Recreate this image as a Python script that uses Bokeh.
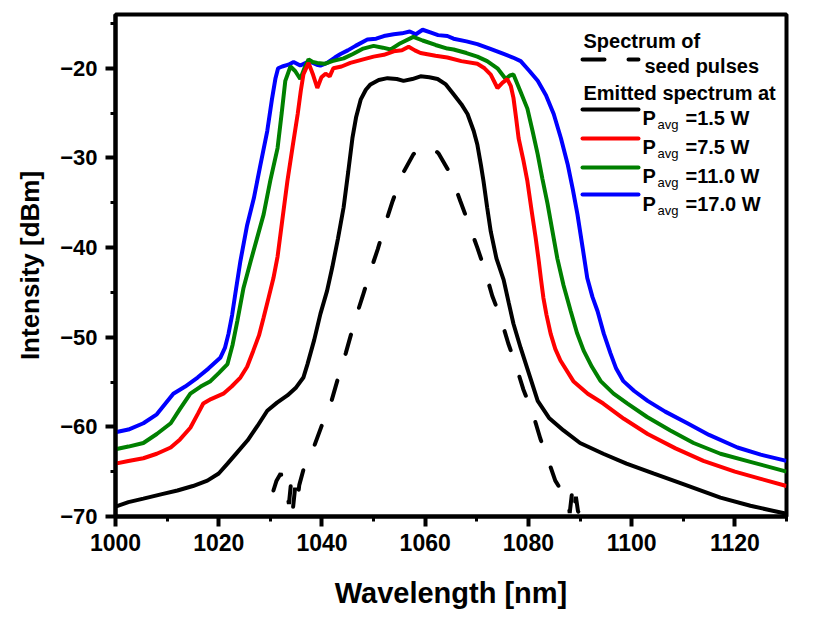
from bokeh.plotting import figure
from bokeh.models import Range1d, SingleIntervalTicker, Label
from bokeh.embed import file_html
from bokeh.resources import INLINE

# ---------------- data ----------------
# Seed pulses spectrum (dashed)
seed_wl = [1030.6, 1031.2, 1032.0, 1033.0, 1033.6, 1034.0, 1034.4, 1034.8, 1035.2, 1035.6,
           1036.4, 1037.2, 1038.4, 1040.0, 1041.7, 1043.0, 1044.6, 1046.5, 1047.9, 1049.4,
           1050.8, 1052.3, 1053.7, 1055.6, 1057.7, 1059.0, 1060.2, 1061.4, 1062.6, 1064.9,
           1066.8, 1068.4, 1070.1, 1071.5, 1073.0, 1074.6, 1076.1, 1077.5, 1079.0, 1080.8,
           1082.3, 1083.7, 1085.2, 1086.6, 1087.6, 1088.0, 1088.4, 1088.8, 1089.2, 1089.6,
           1090.0]
seed_db = [-67.1, -66.0, -65.2, -66.8, -68.6, -66.3, -69.0, -66.8, -68.5, -66.5,
           -64.8, -63.8, -62.3, -59.8, -57.4, -54.8, -51.8, -47.9, -45.4, -42.6,
           -40.2, -37.3, -34.8, -31.8, -29.6, -28.9, -28.6, -28.9, -29.5, -31.8,
           -34.8, -37.3, -40.0, -42.4, -45.4, -47.8, -50.7, -53.0, -55.8, -58.4,
           -61.3, -63.5, -66.0, -67.3, -68.0, -69.6, -67.6, -69.5, -67.8, -69.4,
           -69.8]

# Pavg = 1.5 W (black)
wl_1p5 = [1000, 1002.5, 1005.4, 1009, 1012, 1015, 1017.8, 1020, 1021.7, 1023.5,
          1025.6, 1027.5, 1029.4, 1031.3, 1033.3, 1035, 1036.4, 1037.2, 1038.5, 1039.7,
          1041, 1042, 1043.1, 1044.2, 1045.1, 1045.9, 1046.6, 1047.5, 1048.5, 1049.4,
          1051, 1052.7, 1054.5, 1055.8, 1057.5, 1059.1, 1060.8, 1062.4, 1064, 1065.5,
          1067, 1068.2, 1069.4, 1070.1, 1070.8, 1071.3, 1072, 1072.7, 1073.8, 1075.2,
          1076.2, 1077.1, 1078.5, 1080.4, 1081.8, 1084, 1086.8, 1090, 1094.5, 1099,
          1104.2, 1110, 1117.2, 1123, 1130]
db_1p5 = [-68.9, -68.4, -68.0, -67.5, -67.1, -66.6, -66.0, -65.2, -64.1, -62.9,
          -61.5, -59.9, -58.2, -57.3, -56.5, -55.6, -54.5, -53.0, -50.3, -47.4,
          -44.8, -42.2, -39.0, -35.5, -31.5, -27.8, -25.5, -23.5, -22.4, -21.8,
          -21.3, -21.1, -21.2, -21.4, -21.2, -20.9, -21.0, -21.2, -21.8, -22.9,
          -24.0, -25.1, -27.0, -28.5, -30.8, -32.6, -35.5, -38.2, -41.2, -43.6,
          -46.2, -48.5, -51.2, -54.6, -57.1, -59.0, -60.4, -61.8, -63.0, -64.1,
          -65.2, -66.4, -67.9, -68.8, -69.7]

# Pavg = 7.5 W (red)
wl_7p5 = [1000, 1002.5, 1005.4, 1008, 1010.7, 1012.5, 1014.5, 1016, 1017, 1018.5,
          1020.9, 1022.5, 1024.2, 1025.5, 1026.7, 1027.8, 1028.7, 1029.7, 1030.6, 1031.4,
          1032.3, 1033.3, 1034.3, 1035.3, 1035.9, 1036.4, 1037.4, 1038.2, 1039.1, 1039.9,
          1040.7, 1041.5, 1042.2, 1043.8, 1045.5, 1048, 1050, 1052, 1053.9, 1055.5,
          1056.8, 1058, 1059.1, 1062, 1064.3, 1067, 1070.1, 1071.5, 1072.7, 1074,
          1075, 1075.9, 1076.6, 1077.1, 1077.6, 1078.1, 1079, 1079.8, 1080.6, 1081.4,
          1082, 1082.4, 1082.9, 1083.5, 1084.3, 1085.2, 1086.2, 1088.7, 1091.5, 1094.5,
          1098.5, 1103.1, 1108.5, 1113.9, 1120, 1125, 1130]
db_7p5 = [-64.1, -63.8, -63.5, -63.0, -62.3, -61.4, -60.1, -58.5, -57.4, -56.9,
          -56.3, -55.5, -54.5, -53.3, -51.5, -49.8, -47.8, -45.5, -43.4, -41.0,
          -37.0, -32.6, -28.8, -25.1, -22.5, -20.7, -19.4, -20.6, -22.2, -21.0,
          -20.6, -20.9, -20.0, -19.8, -19.4, -19.0, -18.7, -18.5, -18.1, -18.0,
          -17.6, -18.0, -18.3, -18.6, -18.8, -19.2, -19.5, -20.0, -20.7, -22.2,
          -21.6, -21.2, -22.0, -23.3, -25.5, -27.8, -30.2, -32.6, -35.8, -38.9,
          -41.5, -43.4, -45.6, -47.5, -49.6, -51.3, -52.6, -54.9, -56.3, -57.4,
          -59.1, -60.8, -62.4, -63.8, -65.0, -65.8, -66.6]

# Pavg = 11.0 W (green)
wl_11 = [1000, 1002.5, 1005.4, 1008, 1010.7, 1012.5, 1014.5, 1016.5, 1018.4, 1020,
         1021.7, 1022.7, 1023.6, 1024.8, 1026.2, 1027.4, 1028.7, 1030, 1031.4, 1032.2,
         1032.9, 1033.9, 1034.8, 1035.8, 1036.6, 1037.4, 1038.2, 1039.1, 1040.5, 1042,
         1044.2, 1046, 1048, 1050, 1051.8, 1053.3, 1055.2, 1057.7, 1059.5, 1062,
         1064.3, 1065.5, 1068, 1070.1, 1072, 1074, 1075.6, 1076.4, 1077.1, 1078.4,
         1079.8, 1080.8, 1081.8, 1082.7, 1083.7, 1084.6, 1085.6, 1086.8, 1088.2, 1089.4,
         1090.7, 1092.3, 1094, 1096.5, 1099.2, 1103, 1107.5, 1112, 1117.2, 1123,
         1130]
db_11 = [-62.5, -62.2, -61.8, -60.8, -59.6, -58.0, -56.3, -55.5, -54.9, -54.0,
         -53.0, -50.8, -48.2, -44.5, -41.5, -39.0, -36.3, -32.5, -28.9, -25.0,
         -21.4, -19.8, -20.3, -21.2, -20.0, -19.0, -19.3, -19.4, -19.5, -19.2,
         -18.9, -18.4, -17.8, -17.5, -17.7, -17.9, -17.2, -16.5, -16.9, -17.4,
         -17.8, -17.9, -18.3, -18.7, -19.2, -20.0, -21.2, -20.8, -20.7, -22.5,
         -24.5, -27.0, -29.6, -32.3, -35.1, -38.0, -41.2, -44.2, -47.1, -49.5,
         -51.5, -53.3, -54.9, -56.3, -57.4, -58.9, -60.4, -61.8, -63.0, -63.9,
         -65.0]

# Pavg = 17.0 W (blue)
wl_17 = [1000, 1002.5, 1005.4, 1008, 1011.2, 1013.5, 1015.9, 1018, 1020.3, 1021.2,
         1021.9, 1022.6, 1023.2, 1024.2, 1025.5, 1026.8, 1028, 1029.4, 1030.3, 1031,
         1031.5, 1032.3, 1033.5, 1034.5, 1035.8, 1036.8, 1037.8, 1039, 1039.7, 1041,
         1042.5, 1043.6, 1045, 1046.5, 1048.8, 1050.5, 1052, 1053.9, 1055.5, 1057,
         1058.2, 1059.5, 1061, 1062.5, 1064.3, 1065.5, 1068, 1070.1, 1072.5, 1075.2,
         1077, 1078.5, 1080.2, 1081.8, 1083.4, 1084.9, 1086.3, 1087.6, 1088.6, 1089.5,
         1090.5, 1091.4, 1092.4, 1093.4, 1094.6, 1095.9, 1097, 1098.4, 1100.5, 1103.1,
         1106.5, 1110.8, 1115, 1120.5, 1125, 1130]
db_17 = [-60.6, -60.3, -59.6, -58.6, -56.3, -55.5, -54.5, -53.5, -52.3, -51.2,
         -49.6, -47.5, -45.2, -41.5, -37.5, -34.5, -31.0, -27.0, -23.5, -21.1,
         -20.0, -19.8, -19.6, -19.3, -19.7, -19.4, -19.3, -19.6, -19.7, -19.4,
         -18.8, -18.4, -18.0, -17.5, -16.8, -16.7, -16.4, -16.2, -16.1, -15.9,
         -16.2, -15.7, -16.0, -16.3, -16.4, -16.7, -17.0, -17.3, -17.8, -18.4,
         -18.8, -19.2, -20.3, -21.4, -23.0, -25.1, -27.8, -30.7, -33.5, -36.3,
         -40.0, -43.4, -45.5, -47.1, -49.6, -51.8, -53.5, -54.9, -56.0, -57.1,
         -58.3, -59.6, -60.9, -62.3, -63.1, -63.8]

legend_values = ["=1.5 W", "=7.5 W", "=11.0 W", "=17.0 W"]
series_colors = ["#000000", "#ff0000", "#008000", "#0000ff"]

# ---------------- figure ----------------
X0, X1, Y0, Y1 = 1000, 1130, -70, -14
FONT = "Liberation Sans"

p = figure(width=808, height=616, output_backend="svg", toolbar_location=None,
           x_range=Range1d(X0, X1), y_range=Range1d(Y0, Y1),
           min_border_left=115, min_border_right=22, min_border_top=14,
           min_border_bottom=100)
p.background_fill_color = "white"
p.border_fill_color = "white"
p.grid.visible = False
p.outline_line_color = "black"
p.outline_line_width = 4
p.outline_line_alpha = 1.0

p.xaxis.ticker = SingleIntervalTicker(interval=20, num_minor_ticks=2)
p.yaxis.ticker = SingleIntervalTicker(interval=10, num_minor_ticks=2)
p.xaxis.axis_label = "Wavelength [nm]"
p.yaxis.axis_label = "Intensity [dBm]"
for ax in (p.xaxis, p.yaxis):
    ax.axis_line_width = 4
    ax.axis_line_color = "black"
    ax.major_tick_line_width = 4
    ax.minor_tick_line_width = 3
    ax.major_tick_line_color = "black"
    ax.minor_tick_line_color = "black"
    ax.major_tick_out = 10
    ax.major_tick_in = 0
    ax.minor_tick_out = 5
    ax.minor_tick_in = 0
    ax.major_label_text_font = FONT
    ax.major_label_text_font_style = "bold"
    ax.major_label_text_color = "black"
    ax.axis_label_text_font = FONT
    ax.axis_label_text_font_style = "bold"
    ax.axis_label_text_color = "black"
p.xaxis.major_label_text_font_size = "23px"
p.yaxis.major_label_text_font_size = "22px"
p.xaxis.axis_label_text_font_size = "29px"
p.yaxis.axis_label_text_font_size = "26px"
p.xaxis.major_label_standoff = 7
p.yaxis.major_label_standoff = 8
p.xaxis.axis_label_standoff = 23
p.yaxis.axis_label_standoff = 12

# ---------------- curves ----------------
p.line(seed_wl, seed_db, line_color="black", line_width=4, line_dash="20 28",
       line_cap="round")
p.line(wl_1p5, db_1p5, line_color=series_colors[0], line_width=4)
p.line(wl_17, db_17, line_color=series_colors[3], line_width=4)
p.line(wl_11, db_11, line_color=series_colors[2], line_width=4)
p.line(wl_7p5, db_7p5, line_color=series_colors[1], line_width=4)

# ---------------- legend (drawn by hand, positions in page pixels) ----------------
FL, FR, FT, FB = 115, 786, 14, 516


def fx(px):
    return X0 + (px - FL) * (X1 - X0) / (FR - FL)


def fy(py):
    return Y0 + (FB - py) * (Y1 - Y0) / (FB - FT)


def add_text(px, py, txt, size="20px", style="bold"):
    p.add_layout(Label(x=fx(px), y=fy(py), text=txt, text_font=FONT,
                       text_font_size=size, text_font_style=style,
                       text_color="black", text_baseline="alphabetic",
                       text_align="left"))


add_text(583, 40, "Spectrum of")
p.line([fx(582), fx(638)], [fy(59), fy(59)], line_color="black", line_width=4,
       line_dash="22 24", line_cap="round")
add_text(644, 65, "seed pulses")
add_text(583, 92, "Emitted spectrum at")

row_line_y = [109, 138, 167, 194]
row_base_y = [117, 146, 175, 203]
for ly, by, lab, col in zip(row_line_y, row_base_y, legend_values, series_colors):
    p.line([fx(582), fx(638)], [fy(ly), fy(ly)], line_color=col, line_width=4,
           line_cap="round")
    add_text(642, by, "P")
    add_text(657, by + 7, "avg", size="13px", style="normal")
    add_text(685, by, lab)

open("out.html", "w").write(file_html(p, INLINE))
